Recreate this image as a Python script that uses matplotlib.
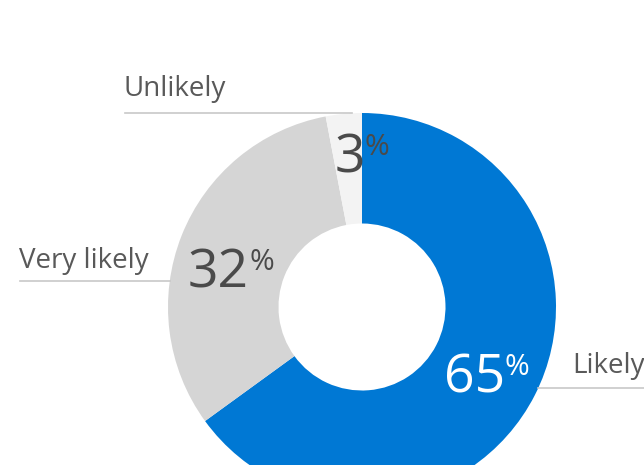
import matplotlib
matplotlib.use("Agg")
import matplotlib.pyplot as plt
import numpy as np

categories = ["Likely", "Very likely", "Unlikely"]
values = [65, 32, 3]
pct_labels = ["65", "32", "3"]
colors = ["#0078D4", "#D5D5D5", "#F3F3F3"]
num_colors = ["white", "#4A4A4A", "#4A4A4A"]

W, H = 644, 465
plt.rcParams['font.family'] = ['Open Sans', 'DejaVu Sans']
fig = plt.figure(figsize=(W / 100, H / 100), dpi=100)
ax = fig.add_axes([0, 0, 1, 1])

cx, cy = 362, H - 307
R, r_in = 194, 83.5
wedges, _ = ax.pie(values, colors=colors, startangle=90, counterclock=False,
                   center=(cx, cy), radius=R, frame=True,
                   wedgeprops=dict(width=R - r_in, linewidth=0))
ax.set_xlim(0, W)
ax.set_ylim(0, H)
ax.set_aspect('equal')
ax.axis('off')

# percentage labels near wedge mid radius (offsets in pixels)
fig.canvas.draw()
renderer = fig.canvas.get_renderer()
rm = (R + r_in) / 2
offsets = {"65": (1, -3), "32": (-2, -12), "3": (13, 16)}
digit_h = 40
pct_h = 22
for w, lab, col in zip(wedges, pct_labels, num_colors):
    ang = np.deg2rad((w.theta1 + w.theta2) / 2)
    x = cx + rm * np.cos(ang)
    y = cy + rm * np.sin(ang)
    dx, dy = offsets.get(lab, (0, 0))
    x += dx; y += dy
    t1 = ax.text(0, 0, lab, fontsize=38.5, color=col, va='baseline', ha='left')
    t2 = ax.text(0, 0, "%", fontsize=21.5, color=col, va='baseline', ha='left')
    w1 = t1.get_window_extent(renderer).width
    w2 = t2.get_window_extent(renderer).width
    total = w1 + w2
    x0 = x - total / 2
    base = y - digit_h / 2
    t1.set_position((x0, base))
    t2.set_position((x0 + w1, base + digit_h - pct_h))

# category labels with leader lines (layout positions in pixels)
line_color = "#C8C8C8"
lab_color = "#595959"
# Unlikely
ax.plot([125, 352], [H - 113, H - 113], color=line_color, lw=1.2)
ax.text(124, H - 96, "Unlikely", fontsize=20, color=lab_color, ha='left', va='baseline')
# Very likely
ax.plot([20, 170], [H - 281, H - 281], color=line_color, lw=1.2)
ax.text(19, H - 268, "Very likely", fontsize=20, color=lab_color, ha='left', va='baseline')
# Likely
ax.plot([538, 644], [H - 388, H - 388], color=line_color, lw=1.2)
ax.text(572, H - 373, "Likely", fontsize=20, color=lab_color, ha='left', va='baseline')

fig.savefig("out.png", dpi=100)
